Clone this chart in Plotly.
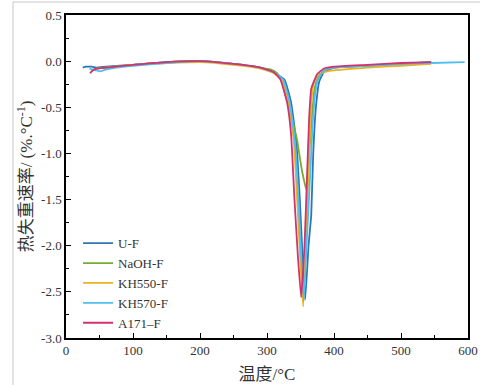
import plotly.graph_objects as go

# ---- data (temperature °C, DTG %/°C) ----
uf_t = [25, 30, 38, 45, 60, 100, 150, 200, 250, 290, 310, 326, 336, 344, 349, 353, 357, 362, 366, 369, 373, 378, 385, 400, 450, 500, 545]
uf_v = [-0.07, -0.06, -0.06, -0.07, -0.06, -0.04, -0.01, 0.0, -0.03, -0.07, -0.12, -0.2, -0.45, -0.9, -1.5, -2.1, -2.58, -2.0, -1.67, -1.0, -0.5, -0.22, -0.12, -0.07, -0.05, -0.03, -0.01]

naoh_t = [38, 45, 60, 100, 150, 200, 250, 290, 305, 315, 323, 333, 345, 348, 352, 359, 363, 367, 371, 376, 385, 400, 450, 500, 545]
naoh_v = [-0.11, -0.08, -0.07, -0.04, -0.01, 0.0, -0.03, -0.07, -0.09, -0.13, -0.23, -0.5, -0.86, -1.0, -1.18, -1.4, -1.0, -0.6, -0.3, -0.18, -0.1, -0.07, -0.05, -0.03, -0.01]

kh550_t = [36, 40, 46, 60, 100, 150, 200, 250, 290, 310, 322, 332, 340, 345, 350, 354, 358, 362, 365, 368, 372, 378, 390, 400, 450, 500, 545]
kh550_v = [-0.13, -0.1, -0.08, -0.07, -0.04, -0.02, -0.01, -0.04, -0.08, -0.13, -0.2, -0.45, -0.86, -1.5, -2.2, -2.66, -2.0, -1.2, -0.6, -0.3, -0.2, -0.14, -0.11, -0.1, -0.07, -0.05, -0.03]

kh570_t = [35, 45, 52, 60, 75, 100, 150, 200, 250, 290, 310, 324, 334, 342, 347, 351, 355, 359, 364, 368, 372, 376, 385, 400, 450, 500, 545, 595]
kh570_v = [-0.08, -0.1, -0.11, -0.09, -0.07, -0.05, -0.02, 0.0, -0.03, -0.07, -0.12, -0.2, -0.45, -0.9, -1.5, -2.1, -2.6, -2.0, -1.3, -0.7, -0.35, -0.2, -0.1, -0.07, -0.05, -0.03, -0.02, -0.01]

a171_t = [36, 40, 45, 60, 100, 150, 200, 250, 290, 310, 320, 330, 336, 341, 346, 351, 356, 360, 363, 366, 370, 375, 385, 400, 450, 500, 545]
a171_v = [-0.13, -0.1, -0.08, -0.07, -0.04, -0.01, 0.0, -0.03, -0.07, -0.12, -0.2, -0.45, -0.8, -1.5, -2.1, -2.56, -2.0, -1.2, -0.6, -0.3, -0.22, -0.14, -0.08, -0.06, -0.04, -0.02, -0.01]

names = ["U-F", "NaOH-F", "KH550-F", "KH570-F", "A171\u2013F"]
colors = ["#2E75B6", "#77AC30", "#EDB120", "#4DBEEE", "#D0336F"]
series = [(uf_t, uf_v), (naoh_t, naoh_v), (kh550_t, kh550_v), (kh570_t, kh570_v), (a171_t, a171_v)]

x_ticks = [0, 100, 200, 300, 400, 500, 600]
y_ticks = [0.5, 0.0, -0.5, -1.0, -1.5, -2.0, -2.5, -3.0]

fig = go.Figure()
for (t, v), n, c in zip(series, names, colors):
    fig.add_trace(go.Scatter(x=t, y=v, mode="lines", name=n,
                             line=dict(color=c, width=1.8, shape="spline", smoothing=0.4)))

serif = "Liberation Serif, Times New Roman, Noto Sans CJK SC, serif"
axis_common = dict(showline=True, linecolor="black", linewidth=1.5, mirror=True,
                   ticks="inside", ticklen=5, tickwidth=1.2, tickcolor="black",
                   showgrid=False, zeroline=False, automargin=False,
                   tickfont=dict(family=serif, size=13, color="#333"))

fig.update_layout(
    width=480, height=385,
    margin=dict(l=66, r=12, t=15, b=47),
    paper_bgcolor="white", plot_bgcolor="white",
    xaxis=dict(range=[0, 600], tickvals=x_ticks, ticktext=[str(v) for v in x_ticks],
               minor=dict(ticks="inside", ticklen=3, tickcolor="black", dtick=50),
               title=dict(text="温度/°C", font=dict(family=serif, size=17, color="#333"), standoff=11),
               **axis_common),
    yaxis=dict(range=[-3.0, 0.5], tickvals=y_ticks, ticktext=[f"{v:.1f}" for v in y_ticks],
               minor=dict(ticks="inside", ticklen=3, tickcolor="black", dtick=0.25),
               title=dict(text="热失重速率/ (%.°C<sup>-1</sup>)", font=dict(family=serif, size=17, color="#333"), standoff=4),
               **axis_common),
    legend=dict(x=0.03, y=0.34, xanchor="left", yanchor="top",
                bgcolor="rgba(0,0,0,0)", font=dict(family=serif, size=13, color="#333"),
                itemwidth=30, tracegroupgap=0),
    shapes=[dict(type="rect", xref="paper", yref="paper",
                 x0=(13 - 66) / 402, x1=1.2, y0=-0.3, y1=(338 - 2) / 323,
                 line=dict(color="#c8c8c8", width=1), layer="below")],
    showlegend=True,
)

fig.write_html("out.html")
